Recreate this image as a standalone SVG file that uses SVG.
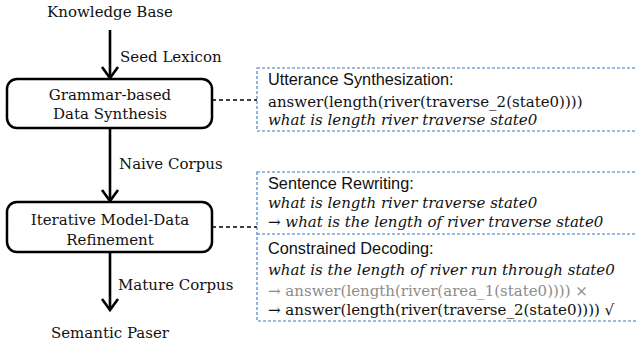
<svg xmlns="http://www.w3.org/2000/svg" width="636" height="349" viewBox="0 0 636 349">
<style>
.s{font-family:"DejaVu Serif","Liberation Serif",serif;font-size:15px;fill:#111}
.si{font-family:"DejaVu Serif","Liberation Serif",serif;font-size:15px;font-style:italic;fill:#111}
.sa{font-family:"Liberation Sans",Arial,sans-serif;font-size:16.3px;fill:#111}
.g{fill:#8c8c8c}
.node{fill:#fff;stroke:#000;stroke-width:2.5}
.blue{fill:none;stroke:#3a78c0;stroke-width:1.1;stroke-dasharray:3 2}
.edge{stroke:#000;stroke-width:2.6;fill:none}
.head{stroke:#000;stroke-width:2.6;fill:none;stroke-linejoin:miter}
.dash{stroke:#000;stroke-width:1.6;stroke-dasharray:4 3;fill:none}
</style>
<g id="connectors">
<line class="edge" x1="110" y1="30" x2="110" y2="78"/>
<path class="head" d="M102,67 L110,78 L118,67"/>
<line class="edge" x1="110" y1="128" x2="110" y2="201"/>
<path class="head" d="M102,190 L110,201 L118,190"/>
<line class="edge" x1="110" y1="252" x2="110" y2="310"/>
<path class="head" d="M102,299 L110,310 L118,299"/>
<line class="dash" x1="212" y1="100" x2="257" y2="100"/>
<line class="dash" x1="212" y1="227" x2="257" y2="227"/>
<text class="s" x="120" y="62">Seed Lexicon</text>
<text class="s" x="119" y="169">Naive Corpus</text>
<text class="s" x="118" y="290">Mature Corpus</text>
</g>
<g id="kb"><text class="s" x="110" y="17" text-anchor="middle">Knowledge Base</text></g>
<g id="grammar">
<rect class="node" x="7" y="79" width="205" height="49" rx="10"/>
<text class="s" x="110" y="100" text-anchor="middle">Grammar-based</text>
<text class="s" x="110" y="119" text-anchor="middle">Data Synthesis</text>
</g>
<g id="iterative">
<rect class="node" x="7" y="202" width="205" height="50" rx="10"/>
<text class="s" x="110" y="225" text-anchor="middle">Iterative Model-Data</text>
<text class="s" x="110" y="245" text-anchor="middle">Refinement</text>
</g>
<g id="parser"><text class="s" x="110" y="338" text-anchor="middle">Semantic Paser</text></g>
<g id="synth-note">
<rect class="blue" x="257" y="68" width="385" height="63"/>
<text class="sa" x="268" y="85">Utterance Synthesization:</text>
<text class="s" x="268" y="107">answer(length(river(traverse_2(state0))))</text>
<text class="si" x="268" y="125">what is length river traverse state0</text>
</g>
<g id="refine-note">
<rect class="blue" x="257" y="172" width="385" height="149"/>
<line class="blue" x1="257" y1="234" x2="642" y2="234"/>
<text class="sa" x="268" y="189">Sentence Rewriting:</text>
<text class="si" x="268" y="208">what is length river traverse state0</text>
<text class="si" x="268" y="227">→ what is the length of river traverse state0</text>
<text class="sa" x="268" y="254">Constrained Decoding:</text>
<text class="si" x="268" y="275">what is the length of river run through state0</text>
<text class="s g" x="268" y="296">→ answer(length(river(area_1(state0)))) ×</text>
<text class="s" x="268" y="315">→ answer(length(river(traverse_2(state0)))) √</text>
</g>
</svg>
